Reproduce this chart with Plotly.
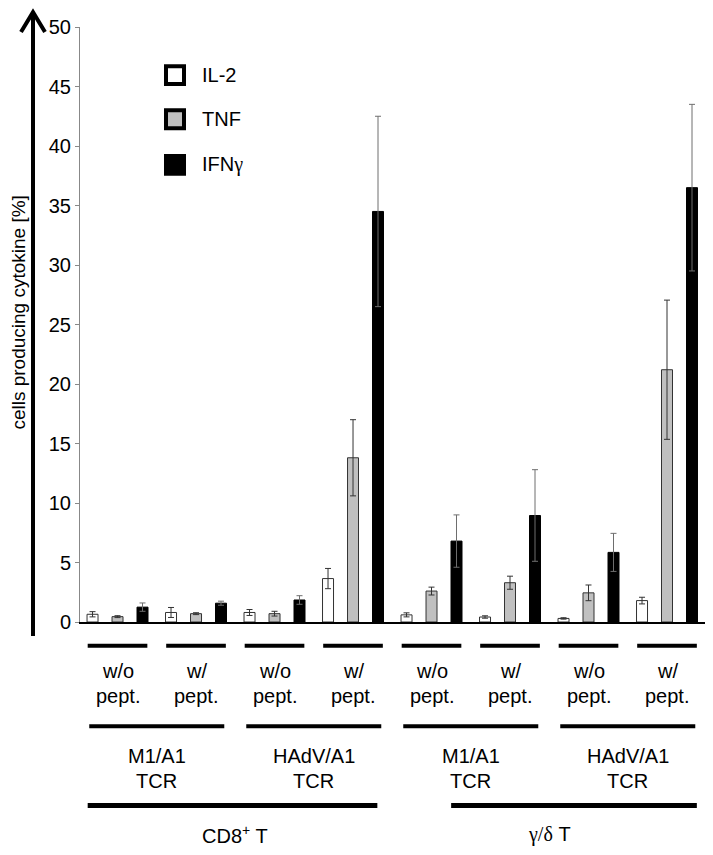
import plotly.graph_objects as go

# ---------------- data ----------------
conditions = ["CD8 M1/A1 w/o", "CD8 M1/A1 w/", "CD8 HAdV/A1 w/o", "CD8 HAdV/A1 w/",
              "gd M1/A1 w/o", "gd M1/A1 w/", "gd HAdV/A1 w/o", "gd HAdV/A1 w/"]
series_names = ["IL-2", "TNF", "IFN<span style='font-family:Liberation Serif'>γ</span>"]
il2 = [0.65, 0.8, 0.8, 3.65, 0.6, 0.42, 0.3, 1.8]
il2_err = [0.22, 0.42, 0.25, 0.85, 0.17, 0.1, 0.06, 0.28]
tnf = [0.45, 0.7, 0.7, 13.8, 2.6, 3.3, 2.45, 21.2]
tnf_err = [0.08, 0.08, 0.2, 3.2, 0.33, 0.55, 0.66, 5.85]
ifn = [1.25, 1.58, 1.85, 34.5, 6.8, 8.95, 5.85, 36.5]
ifn_err = [0.35, 0.17, 0.36, 8.0, 2.2, 3.85, 1.6, 7.0]

pept_labels = ["w/o", "w/", "w/o", "w/", "w/o", "w/", "w/o", "w/"]
tcr_labels = ["M1/A1", "HAdV/A1", "M1/A1", "HAdV/A1"]
cell_labels = ["CD8<sup>+</sup> T", "<span style='font-family:Liberation Serif'>γ/δ</span> T"]
y_ticks = [0, 5, 10, 15, 20, 25, 30, 35, 40, 45, 50]
y_title = "cells producing cytokine [%]"

# ---------------- geometry helpers (pixel layout, page coords) ----------------
OFF = 8                      # default body margin of the html page
W, H = 713 - OFF, 855 - OFF
L, R, T, B = 80 - OFF, 8, 22 - OFF, 233
PW, PH = W - L - R, H - T - B
FONT = "Liberation Sans, Arial, sans-serif"


def px(xp):
    return (xp - OFF - L) / PW


def py(yp):
    return (H - B - (yp - OFF)) / PH


fills = ["white", "#c0c0c0", "black"]
lines = ["#333333", "#333333", "black"]
err_cols = ["#333333", "#333333", "#6e6e6e"]
vals = [il2, tnf, ifn]
errs = [il2_err, tnf_err, ifn_err]

fig = go.Figure()
for i in range(3):
    fig.add_trace(go.Bar(
        x=conditions, y=vals[i], name=series_names[i],
        marker=dict(color=fills[i], line=dict(color=lines[i], width=1)),
        error_y=dict(type="data", array=errs[i], visible=True,
                     color=err_cols[i], thickness=1, width=3),
        showlegend=False,
    ))

shapes = []
annotations = []

# y-axis arrow
shapes.append(dict(type="line", xref="paper", yref="paper",
                   x0=px(33), x1=px(33), y0=py(636), y1=py(8),
                   line=dict(color="black", width=4)))
shapes.append(dict(type="path", xref="paper", yref="paper",
                   path=f"M{px(21)},{py(27)} L{px(33)},{py(7)} L{px(45)},{py(27)}",
                   line=dict(color="black", width=4)))

annotations.append(dict(text=y_title, xref="paper", yref="paper",
                        x=px(19), y=py(310), textangle=-90, showarrow=False,
                        xanchor="center", yanchor="middle",
                        font=dict(size=19, family=FONT, color="black")))

# legend (drawn manually)
leg_y = [70.5, 115, 161]
for i in range(3):
    shapes.append(dict(type="rect", xref="paper", yref="paper",
                       x0=px(166), x1=px(184), y0=py(leg_y[i] - 9), y1=py(leg_y[i] + 9),
                       fillcolor=fills[i], line=dict(color="black", width=4)))
    annotations.append(dict(text=series_names[i], xref="paper", yref="paper",
                            x=px(200), y=py(leg_y[i]), showarrow=False,
                            xanchor="left", yanchor="middle",
                            font=dict(size=20, family=FONT, color="black")))

LBL = dict(size=20, family=FONT, color="black")

# category rows
for g, lab in enumerate(pept_labels):
    shapes.append(dict(type="line", xref="x", yref="paper",
                       x0=g - 0.38, x1=g + 0.38, y0=py(646), y1=py(646),
                       line=dict(color="black", width=4)))
    annotations.append(dict(text=lab, xref="x", yref="paper", x=g, y=py(671),
                            showarrow=False, yanchor="middle", font=LBL))
    annotations.append(dict(text="pept.", xref="x", yref="paper", x=g, y=py(697),
                            showarrow=False, yanchor="middle", font=LBL))

for k, lab in enumerate(tcr_labels):
    g0, g1 = 2 * k, 2 * k + 1
    shapes.append(dict(type="line", xref="x", yref="paper",
                       x0=g0 - 0.36, x1=g1 + 0.36, y0=py(727), y1=py(727),
                       line=dict(color="black", width=4)))
    annotations.append(dict(text=lab, xref="x", yref="paper", x=(g0 + g1) / 2, y=py(757),
                            showarrow=False, yanchor="middle", font=LBL))
    annotations.append(dict(text="TCR", xref="x", yref="paper", x=(g0 + g1) / 2, y=py(782),
                            showarrow=False, yanchor="middle", font=LBL))

row3 = [(-0.38, 3.31), (4.25, 7.38)]
for k, lab in enumerate(cell_labels):
    a, b = row3[k]
    shapes.append(dict(type="line", xref="x", yref="paper",
                       x0=a, x1=b, y0=py(807), y1=py(807),
                       line=dict(color="black", width=5)))
    annotations.append(dict(text=lab, xref="x", yref="paper", x=4 * k + 1.5, y=py(836),
                            showarrow=False, yanchor="middle", font=LBL))

fig.update_layout(
    width=W, height=H,
    margin=dict(l=L, r=R, t=T, b=B, pad=0),
    paper_bgcolor="white", plot_bgcolor="white",
    barmode="group", bargap=0.045, bargroupgap=0.56,
    shapes=shapes, annotations=annotations,
    xaxis=dict(type="category", categoryarray=conditions, categoryorder="array",
               range=[-0.478, 7.484], showticklabels=False, ticks="",
               showline=True, linecolor="black", linewidth=2,
               showgrid=False, zeroline=False, fixedrange=True),
    yaxis=dict(range=[0, 50], tickvals=y_ticks, ticks="outside", ticklen=4,
               tickcolor="#888888", showline=True, linecolor="#888888", linewidth=1,
               showgrid=False, zeroline=False,
               tickfont=dict(size=20, family=FONT, color="black")),
    font=dict(family=FONT, color="black"),
)

fig.write_html("out.html")
